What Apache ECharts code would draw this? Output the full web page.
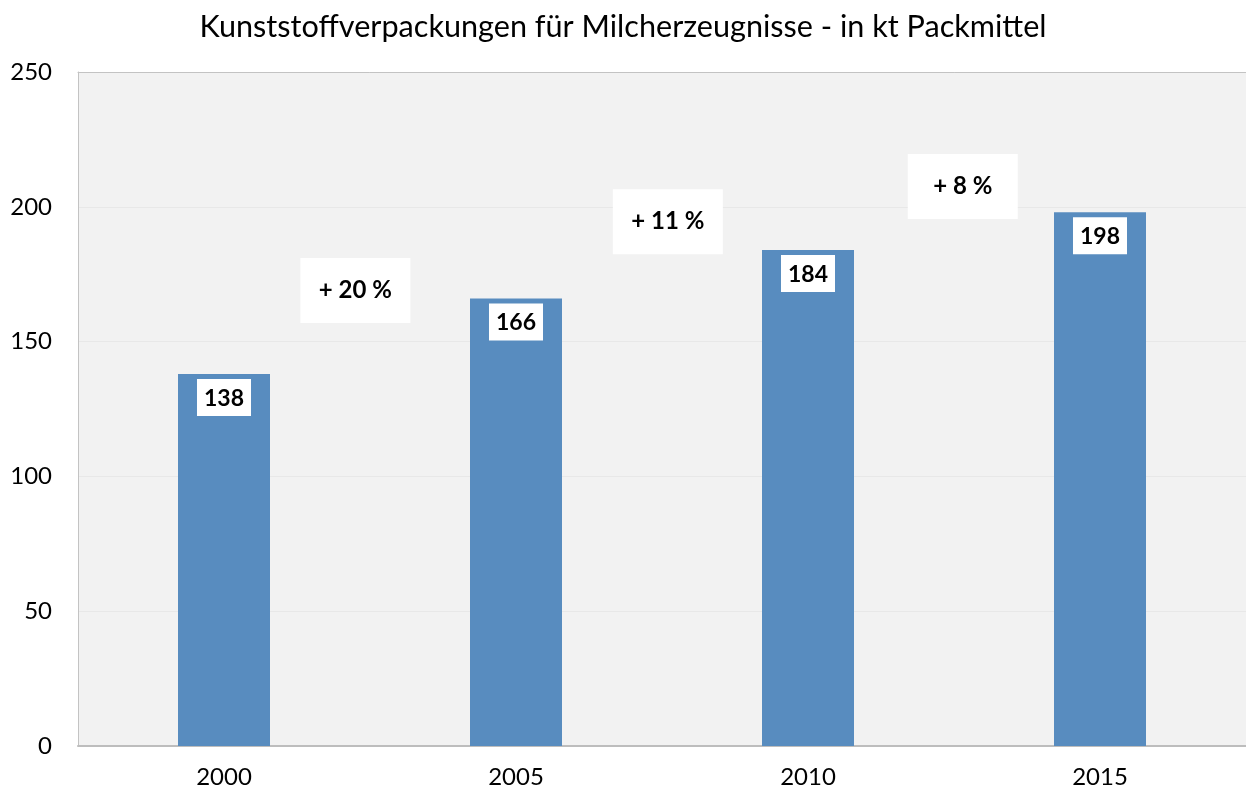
<!DOCTYPE html>
<html>
<head>
<meta charset="utf-8">
<script src="https://cdn.jsdelivr.net/npm/echarts@6/dist/echarts.min.js"></script>
<style>
html, body {margin: 0; padding: 0; background: #fff;}
#chart {width: 1246px; height: 794px;}
</style>
</head>
<body>
<div id="chart"></div>
<script>
var years = ['2000', '2005', '2010', '2015'];
var values = [138, 166, 184, 198];
var yTicks = [0, 50, 100, 150, 200, 250];
// growth notes: [x position on a 0..3 scale, y value, text]
var noteX = [0.45, 1.52, 2.53];
var noteY = [169, 194.5, 207.5];
var noteText = ['+ 20 %', '+ 11 %', '+ 8 %'];

var font = 'Lato, "Open Sans", sans-serif';
var chart = echarts.init(document.getElementById('chart'));

var notes = noteX.map(function (x, i) {
    return {value: [x, noteY[i]], name: noteText[i]};
});

var option = {
    animation: false,
    title: {
        text: 'Kunststoffverpackungen für Milcherzeugnisse - in kt Packmittel',
        left: 'center',
        top: 7,
        textStyle: {fontFamily: font, fontSize: 30.6, fontWeight: 'normal', color: '#000'}
    },
    grid: {
        left: 78, right: 0, top: 72, bottom: 48,
        show: true, backgroundColor: '#f2f2f2', borderWidth: 0
    },
    xAxis: [{
        type: 'category',
        data: years,
        axisLine: {onZero: false, lineStyle: {color: '#bdbdbd', width: 2}},
        axisTick: {show: false},
        axisLabel: {fontFamily: font, fontSize: 24, color: '#000', margin: 19}
    }, {
        // helper axis for the growth notes; its line is the top border
        type: 'value',
        position: 'top',
        min: -0.5, max: 3.5,
        axisLine: {show: true, onZero: false, lineStyle: {color: '#c3c3c3', width: 1}},
        axisTick: {show: false},
        axisLabel: {show: false},
        splitLine: {show: false}
    }],
    yAxis: {
        type: 'value',
        min: yTicks[0],
        max: yTicks[yTicks.length - 1],
        interval: 50,
        axisLine: {show: true, onZero: false, lineStyle: {color: '#c3c3c3', width: 1}},
        axisTick: {show: false},
        splitLine: {lineStyle: {color: '#e8e8e8', width: 1}},
        axisLabel: {fontFamily: font, fontSize: 24, color: '#000', margin: 26}
    },
    series: [{
        type: 'bar',
        data: values,
        barWidth: 92,
        itemStyle: {color: '#588cbf'},
        label: {
            show: true,
            position: 'insideTop',
            distance: 5,
            backgroundColor: '#fff',
            padding: [8, 7, 6, 7],
            fontFamily: font,
            fontSize: 23,
            fontWeight: 'bold',
            color: '#000'
        }
    }, {
        type: 'scatter',
        xAxisIndex: 1,
        data: notes,
        symbol: 'rect',
        symbolSize: [110, 65],
        itemStyle: {color: '#fff', opacity: 1},
        label: {
            show: true,
            position: 'inside',
            formatter: '{b}',
            fontFamily: font,
            fontSize: 24,
            fontWeight: 'bold',
            color: '#000'
        }
    }]
};
chart.setOption(option);
</script>
</body>
</html>
